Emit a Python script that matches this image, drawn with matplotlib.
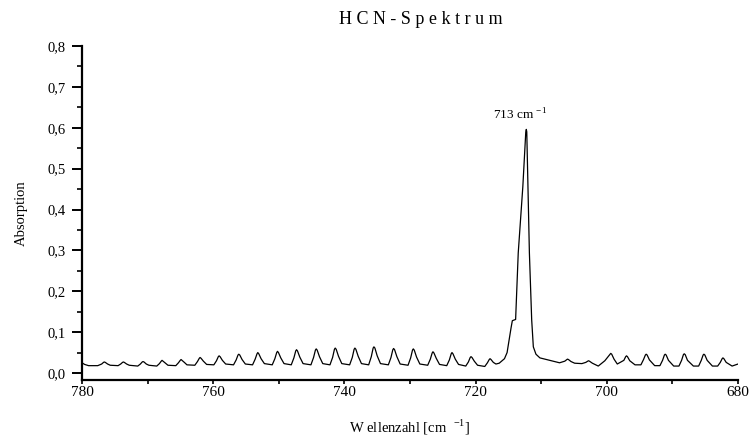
import matplotlib
matplotlib.use("Agg")
import matplotlib.pyplot as plt
from matplotlib.ticker import MultipleLocator, FuncFormatter

# Spectrum vertices (wavenumber [cm^-1], absorption)
wavenumber = [
    780.0, 779.6, 779.0, 777.6,
    777.0, 776.72, 776.6, 776.45, 776.1, 775.7, 774.5,
    774.1, 773.82, 773.7, 773.55, 773.2, 772.8, 771.5,
    771.1, 770.82, 770.7, 770.55, 770.2, 769.8, 768.6,
    768.2, 767.92, 767.8, 767.65, 767.3, 766.9, 765.7,
    765.3, 765.02, 764.9, 764.75, 764.4, 764.0, 762.8,
    762.4, 762.12, 762.0, 761.85, 761.5, 761.0, 759.9,
    759.5, 759.22, 759.1, 758.95, 758.6, 758.1, 756.9,
    756.5, 756.22, 756.1, 755.95, 755.6, 755.1, 754.0,
    753.6, 753.32, 753.2, 753.05, 752.7, 752.2, 751.0,
    750.6, 750.32, 750.2, 750.05, 749.7, 749.2, 748.1,
    747.7, 747.42, 747.3, 747.15, 746.8, 746.3, 745.1,
    744.7, 744.42, 744.3, 744.15, 743.8, 743.3, 742.2,
    741.8, 741.52, 741.4, 741.25, 740.9, 740.4, 739.2,
    738.8, 738.52, 738.4, 738.25, 737.9, 737.4, 736.3,
    735.9, 735.62, 735.5, 735.35, 735.0, 734.5, 733.3,
    732.9, 732.62, 732.5, 732.35, 732.0, 731.5, 730.3,
    729.9, 729.62, 729.5, 729.35, 729.0, 728.5, 727.3,
    726.9, 726.62, 726.5, 726.35, 726.0, 725.5, 724.4,
    724.0, 723.72, 723.6, 723.45, 723.1, 722.6, 721.5,
    721.1, 720.82, 720.7, 720.55, 720.2, 719.7, 718.6,
    718.2, 717.92, 717.8, 717.65, 717.3, 716.9,
    716.4, 715.6, 715.2, 714.6, 714.4, 713.9, 713.5, 712.8,
    712.35, 712.27, 712.2, 711.8, 711.45, 711.2, 710.8, 710.2, 708.7, 707.2,
    706.4, 706.1, 706.0, 705.85, 705.45, 704.9, 703.8,
    703.2, 702.92, 702.8, 702.65, 702.2, 701.3,
    700.3, 699.8, 699.52, 699.4, 699.25, 698.9, 698.4,
    697.4, 697.12, 697.0, 696.85, 696.5, 695.7, 694.8,
    694.4, 694.12, 694.0, 693.85, 693.5, 692.7, 691.9,
    691.5, 691.22, 691.1, 690.95, 690.6, 689.8, 689.0,
    688.6, 688.32, 688.2, 688.05, 687.7, 686.8, 686.0,
    685.6, 685.32, 685.2, 685.05, 684.7, 683.9, 683.1,
    682.7, 682.42, 682.3, 682.15, 681.8, 680.9, 680.0,
]
absorption = [
    0.025, 0.021, 0.018, 0.018,
    0.022, 0.026, 0.027, 0.026, 0.022, 0.019, 0.018,
    0.022, 0.026, 0.027, 0.026, 0.022, 0.019, 0.017,
    0.022, 0.027, 0.028, 0.027, 0.022, 0.019, 0.017,
    0.023, 0.029, 0.031, 0.029, 0.024, 0.019, 0.018,
    0.025, 0.031, 0.033, 0.031, 0.026, 0.020, 0.019,
    0.028, 0.036, 0.038, 0.036, 0.029, 0.021, 0.020,
    0.030, 0.040, 0.042, 0.040, 0.031, 0.022, 0.020,
    0.032, 0.044, 0.046, 0.044, 0.033, 0.022, 0.020,
    0.034, 0.047, 0.050, 0.047, 0.035, 0.023, 0.020,
    0.035, 0.050, 0.053, 0.050, 0.037, 0.023, 0.020,
    0.037, 0.054, 0.057, 0.054, 0.039, 0.023, 0.020,
    0.038, 0.056, 0.059, 0.056, 0.040, 0.023, 0.020,
    0.038, 0.058, 0.061, 0.058, 0.041, 0.023, 0.020,
    0.038, 0.058, 0.061, 0.058, 0.041, 0.023, 0.020,
    0.040, 0.061, 0.064, 0.061, 0.042, 0.023, 0.020,
    0.038, 0.057, 0.060, 0.057, 0.040, 0.022, 0.019,
    0.037, 0.056, 0.059, 0.056, 0.039, 0.022, 0.019,
    0.034, 0.049, 0.052, 0.049, 0.036, 0.021, 0.018,
    0.032, 0.047, 0.050, 0.047, 0.034, 0.021, 0.017,
    0.027, 0.038, 0.040, 0.038, 0.029, 0.019, 0.016,
    0.025, 0.033, 0.035, 0.033, 0.026, 0.022,
    0.024, 0.035, 0.050, 0.110, 0.128, 0.131, 0.294, 0.456,
    0.590, 0.596, 0.590, 0.294, 0.130, 0.064, 0.046, 0.037, 0.031, 0.025,
    0.029, 0.033, 0.034, 0.033, 0.028, 0.024, 0.023,
    0.026, 0.029, 0.030, 0.029, 0.024, 0.017,
    0.030, 0.040, 0.046, 0.048, 0.046, 0.034, 0.022,
    0.031, 0.040, 0.042, 0.040, 0.030, 0.020, 0.020,
    0.033, 0.044, 0.046, 0.044, 0.032, 0.018, 0.018,
    0.031, 0.044, 0.046, 0.044, 0.031, 0.017, 0.017,
    0.031, 0.045, 0.047, 0.045, 0.031, 0.017, 0.017,
    0.031, 0.044, 0.046, 0.044, 0.031, 0.017, 0.017,
    0.026, 0.035, 0.037, 0.035, 0.026, 0.017, 0.022,
]

title_text = "H C N - S p e k t r u m"
x_label = "W ellenzahl [cm  $^{-1}$]"
y_label = "Absorption"
peak_label = "713 cm $^{-1}$"
peak_label_pos = (713.2, 0.632)

plt.rcParams['font.family'] = ['Liberation Serif', 'DejaVu Serif']
plt.rcParams['mathtext.fontset'] = 'custom'
plt.rcParams['mathtext.rm'] = 'Liberation Serif'

fig = plt.figure(figsize=(7.5, 4.36), dpi=100)
ax = fig.add_axes([82/750, 1 - 380/436, (738-82)/750, (380-46)/436])

ax.plot(wavenumber, absorption, color='black', linewidth=0.9, solid_joinstyle='round')

ax.set_xlim(780, 680)
ax.set_ylim(-0.0171, 0.8)

ax.spines['top'].set_visible(False)
ax.spines['right'].set_visible(False)
ax.spines['left'].set_linewidth(1.6)
ax.spines['bottom'].set_linewidth(1.6)

ax.xaxis.set_major_locator(MultipleLocator(20))
ax.xaxis.set_minor_locator(MultipleLocator(10))
ax.yaxis.set_major_locator(MultipleLocator(0.1))
ax.yaxis.set_minor_locator(MultipleLocator(0.05))
ax.yaxis.set_major_formatter(FuncFormatter(lambda v, p: f"{v:.1f}".replace('.', ',')))
ax.xaxis.set_major_formatter(FuncFormatter(lambda v, p: f"{v:.0f}"))

ax.tick_params(axis='y', which='major', direction='out', length=7, width=1.4, labelsize=10.5, pad=5)
ax.tick_params(axis='y', which='minor', direction='out', length=3.5, width=1.2)
ax.tick_params(axis='x', which='major', direction='out', length=3, width=1.2, labelsize=11, pad=1.5)
ax.tick_params(axis='x', which='minor', direction='out', length=3, width=1.2)

ax.set_xlabel(x_label, fontsize=10.5, labelpad=13)
ax.set_ylabel(y_label, fontsize=10.5, labelpad=14)
fig.text(421/750, 1 - 19/436, title_text, ha='center', va='center', fontsize=13)

ax.text(peak_label_pos[0], peak_label_pos[1], peak_label, ha='center', va='center', fontsize=9.5)

fig.savefig("out.png", dpi=100)
